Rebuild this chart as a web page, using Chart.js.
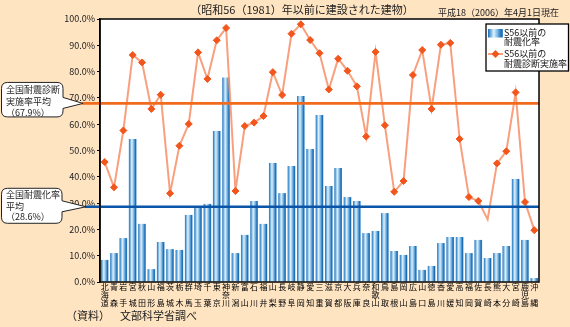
<!DOCTYPE html>
<html>
<head>
<meta charset="utf-8">
<script src="https://cdn.jsdelivr.net/npm/chart.js@4.4.0/dist/chart.umd.min.js"></script>
<style>
  html, body { margin: 0; padding: 0; background: #FFE4C2; }
  #wrap { width: 570px; height: 327px; position: relative; }
</style>
</head>
<body>
<div id="wrap"><canvas id="chart" width="570" height="327"></canvas></div>
<script>
// 都道府県（縦書きラベル）
const prefectures = [
  ["北","海","道"], ["青","","森"], ["岩","","手"], ["宮","","城"], ["秋","","田"], ["山","","形"],
  ["福","","島"], ["茨","","城"], ["栃","","木"], ["群","","馬"], ["埼","","玉"], ["千","","葉"],
  ["東","","京"], ["神","奈","川"], ["新","","潟"], ["富","","山"], ["石","","川"], ["福","","井"],
  ["山","","梨"], ["長","","野"], ["岐","","阜"], ["静","","岡"], ["愛","","知"], ["三","","重"],
  ["滋","","賀"], ["京","","都"], ["大","","阪"], ["兵","","庫"], ["奈","","良"], ["和","歌","山"],
  ["鳥","","取"], ["島","","根"], ["岡","","山"], ["広","","島"], ["山","","口"], ["徳","","島"],
  ["香","","川"], ["愛","","媛"], ["高","","知"], ["福","","岡"], ["佐","","賀"], ["長","","崎"],
  ["熊","","本"], ["大","","分"], ["宮","","崎"], ["鹿","児","島"], ["沖","","縄"]
];

// S56以前の耐震化率 (%)
const taishinka = [
  8.4, 11.0, 16.7, 54.4, 22.1, 4.9, 15.2, 12.5, 12.2, 25.5, 28.5, 29.7,
  57.4, 77.8, 11.0, 17.9, 30.8, 22.1, 45.2, 33.8, 44.1, 70.7, 50.6, 63.5,
  36.5, 43.3, 32.3, 30.8, 18.6, 19.4, 26.2, 11.8, 10.3, 13.7, 4.6, 6.1,
  14.8, 17.1, 17.1, 11.0, 16.0, 9.1, 11.0, 13.7, 39.2, 16.0, 1.5
];

// S56以前の耐震診断実施率 (%)
const shindan = [
  45.6, 36.0, 57.6, 86.3, 83.5, 65.8, 71.2, 33.7, 51.8, 60.1, 87.3, 77.2,
  91.9, 96.6, 34.6, 59.3, 60.6, 63.1, 79.8, 71.1, 94.4, 98.0, 92.0, 87.0,
  73.2, 84.9, 80.3, 74.4, 55.3, 87.5, 59.6, 34.3, 38.4, 78.7, 88.2, 65.8,
  90.2, 90.9, 54.4, 32.3, 30.8, 23.8, 45.1, 49.7, 72.1, 30.4, 19.7
];
// 高知の点はマーカーなし
const noMarker = [41];

const avgShindan = 67.9;
const avgTaishinka = 28.6;

const yTicks = [0, 10, 20, 30, 40, 50, 60, 70, 80, 90, 100];

const FONT = "'Noto Sans CJK JP', sans-serif";

function barGradient(c, x0, x1) {
  const g = c.createLinearGradient(x0, 0, x1, 0);
  g.addColorStop(0, "#1c6db5");
  g.addColorStop(0.15, "#5fa6dc");
  g.addColorStop(0.38, "#e2f1fb");
  g.addColorStop(0.62, "#7fbbe6");
  g.addColorStop(0.88, "#1a6ab3");
  g.addColorStop(1, "#4b94d0");
  return g;
}

function barFill(context) {
  const chart = context.chart;
  const xs = chart.scales.x;
  if (!xs || context.dataIndex === undefined || !chart.chartArea) return "#3a8ad0";
  const cx = xs.getPixelForValue(context.dataIndex);
  const w = xs.width / prefectures.length * 0.82;
  return barGradient(chart.ctx, cx - w / 2, cx + w / 2);
}

function callout(c, x0, y0, x1, y1, tipX, tipY, wedgeTop, wedgeBot) {
  const r = 6;
  c.beginPath();
  c.moveTo(x0 + r, y0);
  c.lineTo(x1 - r, y0);
  c.quadraticCurveTo(x1, y0, x1, y0 + r);
  c.lineTo(x1, wedgeTop);
  c.lineTo(tipX, tipY);
  c.lineTo(x1, wedgeBot);
  c.lineTo(x1, y1 - r);
  c.quadraticCurveTo(x1, y1, x1 - r, y1);
  c.lineTo(x0 + r, y1);
  c.quadraticCurveTo(x0, y1, x0, y1 - r);
  c.lineTo(x0, y0 + r);
  c.quadraticCurveTo(x0, y0, x0 + r, y0);
  c.closePath();
  c.fillStyle = "#ffffff";
  c.fill();
  c.strokeStyle = "#222";
  c.lineWidth = 1;
  c.stroke();
}

const decorations = {
  id: "decorations",
  beforeDraw(chart) {
    const c = chart.ctx, a = chart.chartArea;
    c.save();
    c.fillStyle = "#ffffff";
    c.fillRect(a.left, a.top, a.right - a.left, a.bottom - a.top);
    c.restore();
  },
  afterDatasetsDraw(chart) {
    const c = chart.ctx, a = chart.chartArea, ys = chart.scales.y;
    c.save();

    // 全国平均の線
    const yo = ys.getPixelForValue(avgShindan);
    const yb = ys.getPixelForValue(avgTaishinka);
    c.lineWidth = 2.6;
    c.strokeStyle = "#F26A1B";
    c.beginPath(); c.moveTo(82, yo); c.lineTo(a.right, yo); c.stroke();
    c.strokeStyle = "#0B55A8";
    c.beginPath(); c.moveTo(85, yb); c.lineTo(a.right, yb); c.stroke();

    // 吹き出し
    c.font = "9px " + FONT;
    c.textBaseline = "middle";
    c.textAlign = "left";
    callout(c, 1.5, yo - 21, 63, yo + 13.5, 83, yo, yo - 6, yo + 5);
    c.fillStyle = "#222";
    c.fillText("全国耐震診断", 6, yo - 13.5);
    c.fillText("実施率平均", 6, yo - 2);
    c.fillText("（67.9%）", 6, yo + 9);

    callout(c, 1.5, yb - 18.5, 62, yb + 16.5, 86, yb, yb - 6, yb + 5);
    c.fillStyle = "#222";
    c.fillText("全国耐震化率", 6, yb - 12);
    c.fillText("平均", 6, yb);
    c.fillText("（28.6%）", 6, yb + 10);

    // 枠
    c.strokeStyle = "#000";
    c.lineWidth = 1.5;
    c.strokeRect(a.left, a.top, a.right - a.left, a.bottom - a.top);

    // 凡例
    c.fillStyle = "#ffffff";
    c.fillRect(486, 24, 82.5, 47);
    c.strokeStyle = "#000";
    c.lineWidth = 1.3;
    c.strokeRect(486, 24, 82.5, 47);
    c.fillStyle = barGradient(c, 488, 503);
    c.fillRect(488, 29, 15, 8.5);
    c.strokeStyle = "#F8A07E";
    c.lineWidth = 2;
    c.beginPath(); c.moveTo(488, 54); c.lineTo(503, 54); c.stroke();
    c.fillStyle = "#F2561D";
    c.beginPath();
    c.moveTo(495.5, 50); c.lineTo(499.5, 54); c.lineTo(495.5, 58); c.lineTo(491.5, 54);
    c.closePath(); c.fill();
    c.fillStyle = "#111";
    c.font = "9px " + FONT;
    c.fillText("S56以前の", 504, 32.5);
    c.fillText("耐震化率", 504, 42);
    c.fillText("S56以前の", 504, 53.5);
    c.fillText("耐震診断実施率", 504, 63.5);
    c.restore();
  },
  afterDraw(chart) {
    const c = chart.ctx;
    c.save();
    c.fillStyle = "#222";
    c.textBaseline = "middle";
    c.font = "11px " + FONT;
    c.textAlign = "center";
    c.fillText("（昭和56（1981）年以前に建設された建物）", 302, 10);
    c.font = "9px " + FONT;
    c.textAlign = "left";
    c.fillText("平成18（2006）年4月1日現在", 438, 12.5);
    c.font = "11px " + FONT;
    c.fillText("（資料）", 66, 316);
    c.fillText("文部科学省調べ", 120, 316);
    c.restore();
  }
};

const ctx = document.getElementById("chart").getContext("2d");

new Chart(ctx, {
  type: "bar",
  data: {
    labels: prefectures,
    datasets: [
      {
        type: "line",
        label: "S56以前の耐震診断実施率",
        data: shindan,
        order: 1,
        borderColor: "rgba(247,150,112,0.9)",
        borderWidth: 2,
        tension: 0,
        pointStyle: "rectRot",
        pointRadius: shindan.map((v, i) => noMarker.includes(i) ? 0 : 3.5),
        pointBackgroundColor: "#F2561D",
        pointBorderColor: "#F2561D",
        pointBorderWidth: 1
      },
      {
        type: "bar",
        label: "S56以前の耐震化率",
        data: taishinka,
        order: 2,
        backgroundColor: barFill,
        borderWidth: 0,
        categoryPercentage: 1,
        barPercentage: 0.82
      }
    ]
  },
  options: {
    responsive: false,
    animation: false,
    devicePixelRatio: 1,
    layout: { padding: { top: 19, right: 31, left: 0, bottom: 0 } },
    plugins: {
      legend: { display: false },
      tooltip: { enabled: false }
    },
    scales: {
      x: {
        offset: true,
        grid: { display: false, drawTicks: false },
        border: { display: false },
        ticks: {
          autoSkip: false,
          maxRotation: 0,
          minRotation: 0,
          padding: 1,
          color: "#000",
          font: { family: FONT, size: 8, lineHeight: 1 }
        },
        afterFit: function(scale) { scale.height = 45; }
      },
      y: {
        min: 0,
        max: 100,
        afterBuildTicks: function(scale) {
          scale.ticks = yTicks.map(v => ({ value: v }));
        },
        grid: { drawOnChartArea: false, drawTicks: true, tickLength: 3, color: "#000" },
        border: { display: true, color: "#000", width: 1.5 },
        ticks: {
          padding: 2,
          color: "#222",
          font: { family: FONT, size: 9 },
          callback: function(v) { return v.toFixed(1) + "%"; }
        },
        afterFit: function(scale) { scale.width = 100; }
      }
    }
  },
  plugins: [decorations]
});
</script>
</body>
</html>
